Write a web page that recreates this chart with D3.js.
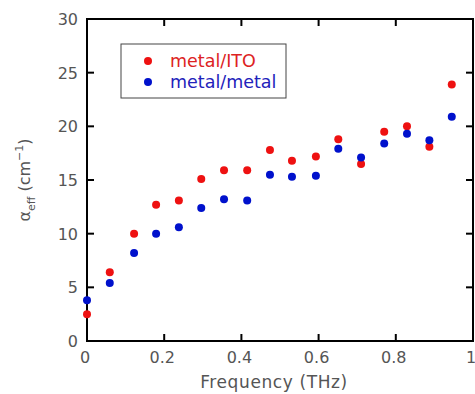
<!DOCTYPE html>
<html>
<head>
<meta charset="utf-8">
<script src="https://cdn.jsdelivr.net/npm/d3@7"></script>
<style>
  body { margin: 0; background: #fff; }
  text { font-family: "DejaVu Sans", sans-serif; }
</style>
</head>
<body>
<svg id="chart" width="475" height="394"></svg>
<script>
"use strict";

// frequency (THz)
var freq = [0, 0.059, 0.122, 0.179, 0.238, 0.296, 0.355, 0.415, 0.474, 0.531, 0.593, 0.651, 0.71, 0.77, 0.829, 0.887, 0.945];
var metalIto = [2.5, 6.4, 10.0, 12.7, 13.1, 15.1, 15.9, 15.9, 17.8, 16.8, 17.2, 18.8, 16.5, 19.5, 20.0, 18.1, 23.9];
var metalMetal = [3.8, 5.4, 8.2, 10.0, 10.6, 12.4, 13.2, 13.1, 15.5, 15.3, 15.4, 17.9, 17.1, 18.4, 19.3, 18.7, 20.9];
var xTicks = [0, 0.2, 0.4, 0.6, 0.8, 1];
var yTicks = [0, 5, 10, 15, 20, 25, 30];

var svg = d3.select("#chart");
var plotL = 87, plotR = 473, plotT = 19, plotB = 341;

var x = d3.scaleLinear().domain([0, 1]).range([plotL, plotR]);
var y = d3.scaleLinear().domain([0, 30]).range([plotB, plotT]);

var gray = "#555";

// tick marks (inward, all four sides)
var innerX = xTicks.filter(function(d) { return d > 0 && d < 1; });
var innerY = yTicks.filter(function(d) { return d > 0 && d < 30; });
var ticks = svg.append("g").attr("stroke", "#000").attr("stroke-width", 2);
innerX.forEach(function(d) {
  ticks.append("line").attr("x1", x(d)).attr("x2", x(d)).attr("y1", plotB).attr("y2", plotB - 7);
  ticks.append("line").attr("x1", x(d)).attr("x2", x(d)).attr("y1", plotT).attr("y2", plotT + 7);
});
innerY.forEach(function(d) {
  ticks.append("line").attr("y1", y(d)).attr("y2", y(d)).attr("x1", plotL).attr("x2", plotL + 7);
  ticks.append("line").attr("y1", y(d)).attr("y2", y(d)).attr("x1", plotR).attr("x2", plotR - 7);
});

// frame
svg.append("rect")
  .attr("x", plotL).attr("y", plotT)
  .attr("width", plotR - plotL).attr("height", plotB - plotT)
  .attr("fill", "none").attr("stroke", "#000").attr("stroke-width", 2);

// tick labels
svg.append("g").selectAll("text").data(xTicks).enter().append("text")
  .attr("x", function(d) { return x(d) - 2; })
  .attr("y", 363)
  .attr("text-anchor", "middle")
  .attr("font-size", 16)
  .attr("fill", gray)
  .text(function(d) { return d3.format("")(d); });

svg.append("g").selectAll("text").data(yTicks).enter().append("text")
  .attr("x", 78)
  .attr("y", function(d) { return y(d) + 6; })
  .attr("text-anchor", "end")
  .attr("font-size", 16)
  .attr("fill", gray)
  .text(function(d) { return d; });

// axis titles
svg.append("text")
  .attr("x", 274).attr("y", 388)
  .attr("text-anchor", "middle")
  .attr("font-size", 17)
  .attr("letter-spacing", 0.6)
  .attr("fill", gray)
  .text("Frequency (THz)");

var yl = svg.append("text")
  .attr("transform", "translate(30,180) rotate(-90)")
  .attr("text-anchor", "middle")
  .attr("font-size", 16)
  .attr("fill", gray);
yl.append("tspan").text("α");
yl.append("tspan").attr("font-size", 11).attr("dy", 5).text("eff");
yl.append("tspan").attr("dy", -5).text(" (cm");
yl.append("tspan").attr("font-size", 11).attr("dy", -7).text("−1");
yl.append("tspan").attr("dy", 7).text(")");

// points
var red = "#ee1111", blue = "#0011cc";
svg.append("g").selectAll("circle").data(freq).enter().append("circle")
  .attr("cx", function(d) { return x(d); })
  .attr("cy", function(d, i) { return y(metalIto[i]); })
  .attr("r", 4)
  .attr("fill", red);

svg.append("g").selectAll("circle").data(freq).enter().append("circle")
  .attr("cx", function(d) { return x(d); })
  .attr("cy", function(d, i) { return y(metalMetal[i]); })
  .attr("r", 4)
  .attr("fill", blue);

// legend
var lg = svg.append("g");
lg.append("rect")
  .attr("x", 121).attr("y", 44).attr("width", 165).attr("height", 54)
  .attr("fill", "#fff").attr("stroke", "#444").attr("stroke-width", 1);
lg.append("circle").attr("cx", 148).attr("cy", 61).attr("r", 4).attr("fill", red);
lg.append("circle").attr("cx", 148).attr("cy", 82).attr("r", 4).attr("fill", blue);
lg.append("text").attr("x", 170).attr("y", 67).attr("font-size", 17.5).attr("fill", "#dd2222").text("metal/ITO");
lg.append("text").attr("x", 170).attr("y", 88).attr("font-size", 17.5).attr("fill", "#2222bb").text("metal/metal");
</script>
</body>
</html>
